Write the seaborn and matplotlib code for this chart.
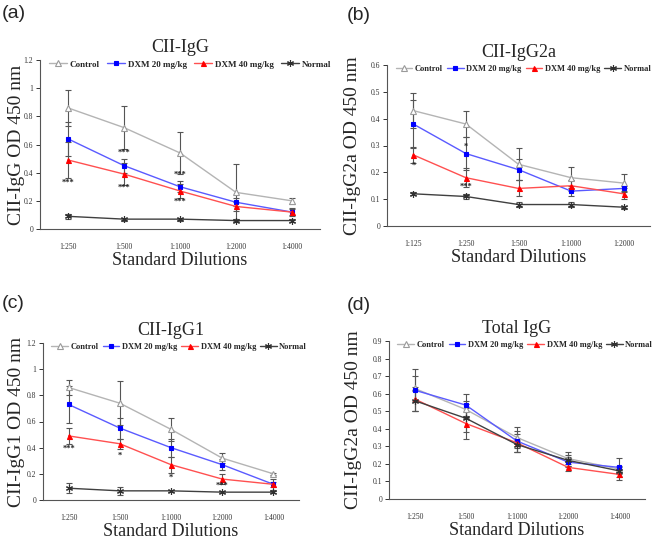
import numpy as np
import pandas as pd
import matplotlib
matplotlib.use("Agg")
import matplotlib.pyplot as plt
import seaborn as sns

sns.set_style("white")
plt.rcParams['font.family'] = ['Liberation Serif', 'DejaVu Serif']

groups = ["Control", "DXM 20 mg/kg", "DXM 40 mg/kg", "Normal"]

# Panel (a) CII-IgG
dil_a = ["1:250", "1:500", "1:1000", "1:2000", "1:4000"]
a_mean = {
    "Control":      [0.86, 0.72, 0.54, 0.26, 0.20],
    "DXM 20 mg/kg": [0.64, 0.45, 0.30, 0.19, 0.12],
    "DXM 40 mg/kg": [0.49, 0.39, 0.27, 0.16, 0.12],
    "Normal":       [0.09, 0.07, 0.07, 0.06, 0.06],
}
a_err = {
    "Control":      [0.13, 0.15, 0.15, 0.20, 0.02],
    "DXM 20 mg/kg": [0.12, 0.05, 0.04, 0.03, 0.02],
    "DXM 40 mg/kg": [0.13, 0.08, 0.05, 0.03, 0.03],
    "Normal":       [0.02, 0.01, 0.01, 0.01, 0.01],
}
a_stars = [(0, 0.33, "***"), (1, 0.54, "***"), (1, 0.29, "***"), (2, 0.385, "***"), (2, 0.196, "***")]

# Panel (b) CII-IgG2a
dil_b = ["1:125", "1:250", "1:500", "1:1000", "1:2000"]
b_mean = {
    "Control":      [0.43, 0.38, 0.23, 0.18, 0.16],
    "DXM 20 mg/kg": [0.38, 0.27, 0.21, 0.13, 0.14],
    "DXM 40 mg/kg": [0.265, 0.18, 0.14, 0.15, 0.12],
    "Normal":       [0.12, 0.11, 0.08, 0.08, 0.07],
}
b_err = {
    "Control":      [0.065, 0.05, 0.06, 0.04, 0.035],
    "DXM 20 mg/kg": [0.09, 0.06, 0.04, 0.02, 0.01],
    "DXM 40 mg/kg": [0.03, 0.035, 0.03, 0.02, 0.02],
    "Normal":       [0.005, 0.01, 0.01, 0.01, 0.005],
}
b_stars = [(0, 0.225, "*"), (1, 0.295, "*"), (1, 0.147, "***")]

# Panel (c) CII-IgG1
dil_c = ["1:250", "1:500", "1:1000", "1:2000", "1:4000"]
c_mean = {
    "Control":      [0.86, 0.74, 0.54, 0.32, 0.20],
    "DXM 20 mg/kg": [0.73, 0.55, 0.40, 0.27, 0.12],
    "DXM 40 mg/kg": [0.49, 0.43, 0.27, 0.16, 0.12],
    "Normal":       [0.09, 0.07, 0.07, 0.06, 0.06],
}
c_err = {
    "Control":      [0.06, 0.17, 0.09, 0.04, 0.01],
    "DXM 20 mg/kg": [0.14, 0.08, 0.07, 0.04, 0.04],
    "DXM 40 mg/kg": [0.06, 0.04, 0.06, 0.04, 0.02],
    "Normal":       [0.04, 0.03, 0.01, 0.01, 0.01],
}
c_stars = [(0, 0.39, "***"), (1, 0.34, "*"), (2, 0.17, "*"), (3, 0.11, "***")]

# Panel (d) Total IgG
dil_d = ["1:250", "1:500", "1:1000", "1:2000", "1:4000"]
d_mean = {
    "Control":      [0.63, 0.51, 0.35, 0.23, 0.17],
    "DXM 20 mg/kg": [0.62, 0.535, 0.33, 0.21, 0.18],
    "DXM 40 mg/kg": [0.57, 0.43, 0.32, 0.18, 0.14],
    "Normal":       [0.56, 0.46, 0.31, 0.22, 0.16],
}
d_err = {
    "Control":      [0.07, 0.05, 0.06, 0.04, 0.02],
    "DXM 20 mg/kg": [0.12, 0.065, 0.06, 0.03, 0.055],
    "DXM 40 mg/kg": [0.07, 0.09, 0.05, 0.02, 0.03],
    "Normal":       [0.06, 0.08, 0.04, 0.03, 0.02],
}
d_stars = []

line_colors = {"Control": "#b4b4b4", "DXM 20 mg/kg": "#5a5aff",
               "DXM 40 mg/kg": "#ff5050", "Normal": "#404040"}
mk_face = {"Control": "white", "DXM 20 mg/kg": "#0000ff",
           "DXM 40 mg/kg": "#ff0000", "Normal": "#303030"}
mk_edge = {"Control": "#9a9a9a", "DXM 20 mg/kg": "#0000ff",
           "DXM 40 mg/kg": "#ff0000", "Normal": "#303030"}
markers = {"Control": "^", "DXM 20 mg/kg": "s", "DXM 40 mg/kg": "^", "Normal": (6, 2, 0)}
msizes = {"Control": 4.2, "DXM 20 mg/kg": 3.3, "DXM 40 mg/kg": 3.6, "Normal": 5}

# label, title, ylabel, dilutions, means, errs, stars, ymax, ystep, box(l,t,r,b px),
# panel-label pos, ylabel right-edge offset (px from axes left), legend font size, col spacing
panels = [
    ("(a)", "CII-IgG", "CII-IgG OD 450 nm", dil_a, a_mean, a_err, a_stars, 1.2, 0.2,
     [40, 60, 320, 229], (2, 13), -15, 6.5, 0.8),
    ("(b)", "CII-IgG2a", "CII-IgG2a OD 450 nm", dil_b, b_mean, b_err, b_stars, 0.6, 0.1,
     [387, 65, 650, 226], (347, 15), -26, 6.0, 0.5),
    ("(c)", "CII-IgG1", "CII-IgG1 OD 450 nm", dil_c, c_mean, c_err, c_stars, 1.2, 0.2,
     [43, 343, 299, 500], (2, 303), -18, 6.0, 0.5),
    ("(d)", "Total IgG", "CII-IgG2a OD 450 nm", dil_d, d_mean, d_err, d_stars, 0.9, 0.1,
     [389, 341, 645, 499], (347, 305), -27, 6.0, 0.5),
]

W, H = 660, 540
fig = plt.figure(figsize=(6.6, 5.4), dpi=100)

for lab, title, ylab, dil, means, errs, stars, ymax, ystep, box, labpos, yoff, lfs, csp in panels:
    l, t, r, b = box
    ax = fig.add_axes([l / W, 1 - b / H, (r - l) / W, (b - t) / H])
    rows = []
    for g in groups:
        for i, d in enumerate(dil):
            rows.append({"x": i, "dil": d, "group": g, "y": means[g][i], "err": errs[g][i]})
    df = pd.DataFrame(rows)
    for g in groups:
        sub = df[df["group"] == g]
        ax.errorbar(sub["x"], sub["y"], yerr=sub["err"], fmt="none",
                    ecolor="#555555", elinewidth=0.8, capsize=2.2, capthick=0.8, zorder=2)
    for g in groups:
        sub = df[df["group"] == g]
        sns.lineplot(data=sub, x="x", y="y", ax=ax, color=line_colors[g],
                     marker=markers[g], markersize=msizes[g],
                     markerfacecolor=mk_face[g], markeredgecolor=mk_edge[g],
                     markeredgewidth=0.8, linewidth=1.0, label=g, zorder=3,
                     errorbar=None)
    for xi, yv, s in stars:
        ax.text(xi, yv, s, ha="center", va="center", fontsize=6, fontweight="bold",
                color="#222222", zorder=4)

    ax.set_xlim(-0.5, len(dil) - 0.5)
    ax.set_ylim(0, ymax)
    yt = np.round(np.arange(0, ymax + ystep / 2, ystep), 2)
    ax.set_yticks(yt)
    ax.set_yticklabels(["%g" % v for v in yt])
    ax.set_xticks(range(len(dil)))
    ax.set_xticklabels(dil)
    ax.set_xticks(np.arange(0.5, len(dil) - 0.5, 1.0), minor=True)
    ax.tick_params(axis="x", which="major", length=0, labelsize=5.5, pad=10, colors="#333333")
    ax.tick_params(axis="x", which="minor", length=3, direction="inout", color="#555555", width=0.7)
    ax.tick_params(axis="y", which="major", length=3, direction="out", labelsize=5.5,
                   colors="#333333", width=0.7, left=True, pad=2)
    for sp in ["top", "right"]:
        ax.spines[sp].set_visible(False)
    for sp in ["left", "bottom"]:
        ax.spines[sp].set_color("#555555")
        ax.spines[sp].set_linewidth(0.8)

    ax.set_xlabel("Standard Dilutions", fontsize=13, labelpad=1)
    ax.set_ylabel(ylab, fontsize=14)
    ax.yaxis.set_label_coords(yoff / (r - l), 0.5)
    ax.set_title(title, fontsize=13, pad=6)

    ax.legend(loc="upper left", bbox_to_anchor=(0.02, 1.02), ncol=4, frameon=False,
              prop={"family": "Liberation Serif", "weight": "bold", "size": lfs},
              handlelength=2.0, handletextpad=0.3, columnspacing=csp, borderaxespad=0)
    fig.text(labpos[0] / W, 1 - labpos[1] / H, lab, fontsize=14,
             family="Liberation Sans", ha="left", va="center")

fig.savefig("out.png", dpi=100)
